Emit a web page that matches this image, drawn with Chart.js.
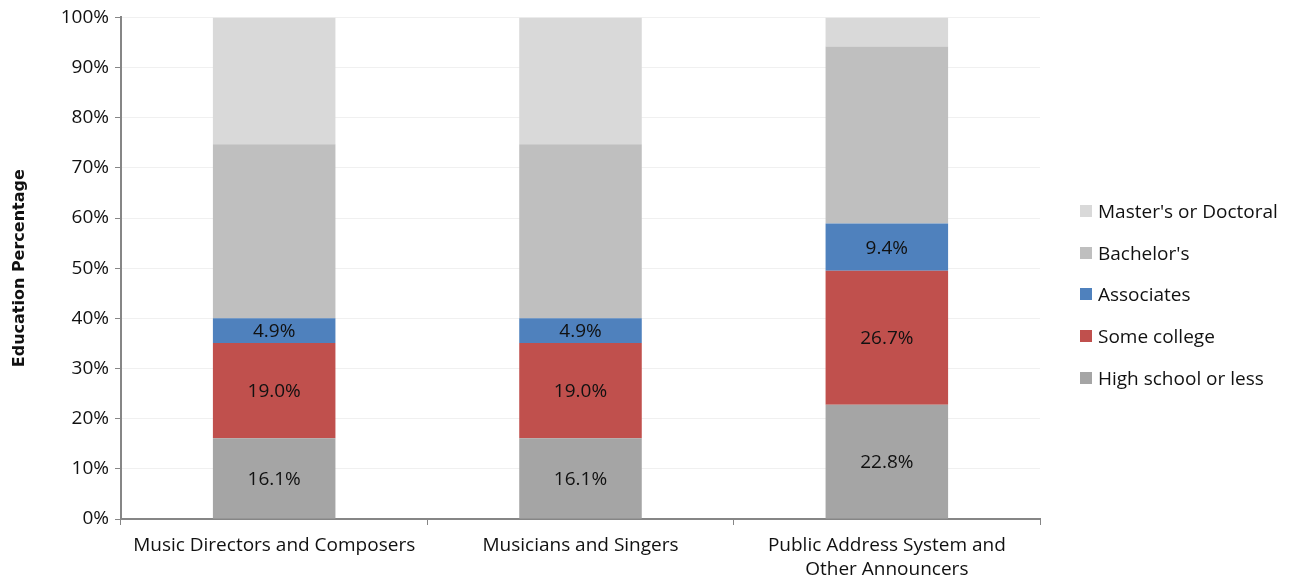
<!DOCTYPE html>
<html lang="en">
<head>
    <meta charset="UTF-8">
    <title>Education Percentage</title>
    <script src="https://cdn.jsdelivr.net/npm/chart.js"></script>
    <style>
        body {
            margin: 0;
            background: #ffffff;
            font-family: "Open Sans", sans-serif;
        }
        .wrap {
            position: relative;
            width: 1302px;
            height: 582px;
        }
        #legend {
            position: absolute;
            left: 1080px;
            top: 190px;
            font-size: 19px;
            color: #111;
        }
        #legend div {
            height: 41.7px;
            display: flex;
            align-items: center;
        }
        #legend span {
            display: inline-block;
            width: 12px;
            height: 12px;
            margin-right: 6px;
        }
    </style>
</head>
<body>
<div class="wrap">
    <canvas id="chart" width="1302" height="582"></canvas>
    <div id="legend"></div>
</div>
<script>
    const categories = [
        "Music Directors and Composers",
        "Musicians and Singers",
        ["Public Address System and", "Other Announcers"]
    ];
    const highSchool = [16.1, 16.1, 22.8];
    const someCollege = [19.0, 19.0, 26.7];
    const associates = [4.9, 4.9, 9.4];
    const bachelors = [34.7, 34.7, 35.3];
    const masters = [25.3, 25.3, 5.8];
    const yTicks = [0, 10, 20, 30, 40, 50, 60, 70, 80, 90, 100];

    const datasets = [
        { label: "High school or less", data: highSchool, backgroundColor: "#a5a5a5", showLabel: true },
        { label: "Some college", data: someCollege, backgroundColor: "#c0504d", showLabel: true },
        { label: "Associates", data: associates, backgroundColor: "#4f81bd", showLabel: true },
        { label: "Bachelor's", data: bachelors, backgroundColor: "#bfbfbf", showLabel: false },
        { label: "Master's or Doctoral", data: masters, backgroundColor: "#d9d9d9", showLabel: false }
    ];
    datasets.forEach(d => { d.barPercentage = 0.4; d.categoryPercentage = 1.0; });

    // value labels in the middle of the lower segments
    const barLabels = {
        id: 'barLabels',
        afterDatasetsDraw(chart) {
            const ctx = chart.ctx;
            ctx.save();
            ctx.font = '19px "Open Sans", sans-serif';
            ctx.fillStyle = '#111';
            ctx.textAlign = 'center';
            ctx.textBaseline = 'middle';
            chart.data.datasets.forEach((ds, i) => {
                if (!ds.showLabel) return;
                chart.getDatasetMeta(i).data.forEach((bar, j) => {
                    const mid = (bar.y + bar.base) / 2;
                    ctx.fillText(ds.data[j].toFixed(1) + '%', bar.x, mid + 1);
                });
            });
            ctx.restore();
        }
    };

    Chart.defaults.font.family = '"Open Sans", sans-serif';
    Chart.defaults.color = '#111';

    new Chart(document.getElementById('chart'), {
        type: 'bar',
        data: { labels: categories, datasets: datasets },
        options: {
            responsive: false,
            animation: false,
            layout: { padding: { top: 17, right: 262, left: 0, bottom: 0 } },
            plugins: {
                legend: { display: false },
                tooltip: { enabled: false }
            },
            scales: {
                x: {
                    stacked: true,
                    afterFit: s => { s.height = 63; },
                    grid: {
                        offset: true,
                        drawOnChartArea: false,
                        tickLength: 6,
                        tickColor: '#868686'
                    },
                    border: { color: '#868686', width: 2 },
                    ticks: { font: { size: 19, lineHeight: 1.25 }, color: '#111', padding: 9, maxRotation: 0 }
                },
                y: {
                    stacked: true,
                    min: 0,
                    max: 100,
                    afterFit: s => { s.width = 121; },
                    afterBuildTicks: s => { s.ticks = yTicks.map(v => ({ value: v })); },
                    grid: {
                        color: '#f0f0f0',
                        tickLength: 6,
                        tickColor: '#868686'
                    },
                    border: { color: '#868686', width: 2 },
                    ticks: {
                        font: { size: 19 },
                        color: '#111',
                        padding: 6,
                        callback: v => v + '%'
                    },
                    title: {
                        display: true,
                        text: 'Education Percentage',
                        font: { family: '"DejaVu Sans", sans-serif', size: 16, weight: 'bold' },
                        color: '#111',
                        padding: { top: 10, bottom: 0 }
                    }
                }
            }
        },
        plugins: [barLabels]
    });

    // legend, listed top-down in reverse stacking order
    const legend = document.getElementById('legend');
    datasets.slice().reverse().forEach(d => {
        const row = document.createElement('div');
        row.innerHTML = '<span style="background:' + d.backgroundColor + '"></span>' + d.label;
        legend.appendChild(row);
    });
</script>
</body>
</html>
